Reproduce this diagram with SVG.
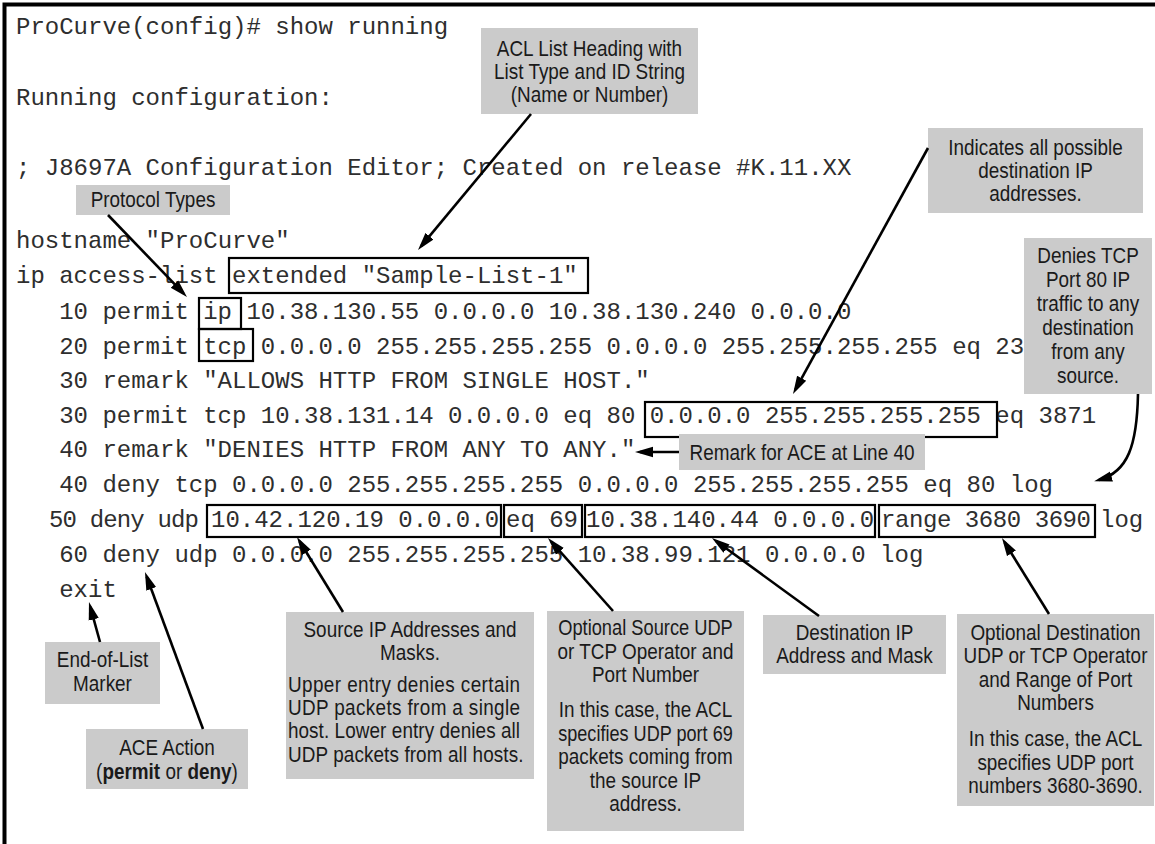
<svg xmlns="http://www.w3.org/2000/svg" width="1155" height="844" viewBox="0 0 1155 844">
  <style>
    .mono { font-family: "Liberation Mono", "Courier New", monospace; font-size: 24px; fill: #2e2e2e; }
    .note { font-family: "Liberation Sans", Arial, sans-serif; font-size: 22px; fill: #1a1a1a; text-anchor: middle; }
    .left { text-anchor: start; }
    .callout { fill: #cbcbcb; }
    .hl { fill: none; stroke: #000; stroke-width: 2.2; }
    .wire { fill: none; stroke: #000; stroke-width: 2.6; marker-end: url(#ah); }
    .frame { fill: none; stroke: #000; stroke-width: 4; }
  </style>
  <defs>
    <marker id="ah" markerUnits="userSpaceOnUse" markerWidth="18" markerHeight="12" viewBox="0 0 18 12" refX="13" refY="6" orient="auto">
      <path d="M0 0.8 L18 6 L0 11.2 Z" fill="#000"/>
    </marker>
  </defs>

  <rect width="1155" height="844" fill="#fff"/>
  <path class="frame" d="M4.5 844 V4.5 H1155"/>

  <!-- configuration listing -->
  <g id="listing">
    <text class="mono" x="16" y="34">ProCurve(config)# show running</text>
    <text class="mono" x="16" y="105">Running configuration:</text>
    <text class="mono" x="16" y="175">; J8697A Configuration Editor; Created on release #K.11.XX</text>
    <text class="mono" x="16" y="248">hostname "ProCurve"</text>
    <text class="mono" x="16" y="283">ip access-list extended "Sample-List-1"</text>
    <text class="mono" x="59.2" y="319">10 permit ip 10.38.130.55 0.0.0.0 10.38.130.240 0.0.0.0</text>
    <text class="mono" x="59.2" y="354">20 permit tcp 0.0.0.0 255.255.255.255 0.0.0.0 255.255.255.255 eq 23</text>
    <text class="mono" x="59.2" y="388">30 remark "ALLOWS HTTP FROM SINGLE HOST."</text>
    <text class="mono" x="59.2" y="423">30 permit tcp 10.38.131.14 0.0.0.0 eq 80 0.0.0.0 255.255.255.255 eq 3871</text>
    <text class="mono" x="59.2" y="457">40 remark "DENIES HTTP FROM ANY TO ANY."</text>
    <text class="mono" x="59.2" y="492">40 deny tcp 0.0.0.0 255.255.255.255 0.0.0.0 255.255.255.255 eq 80 log</text>
    <text class="mono" y="527"><tspan x="49" textLength="150" lengthAdjust="spacing">50 deny udp</tspan><tspan x="211">10.42.120.19 0.0.0.0</tspan><tspan x="506">eq 69</tspan><tspan x="586">10.38.140.44 0.0.0.0</tspan><tspan x="881" textLength="210" lengthAdjust="spacing">range 3680 3690</tspan><tspan x="1100">log</tspan></text>
    <text class="mono" x="59.2" y="562">60 deny udp 0.0.0.0 255.255.255.255 10.38.99.121 0.0.0.0 log</text>
    <text class="mono" x="59.2" y="597">exit</text>
  </g>

  <!-- outlined fields -->
  <g id="fields">
    <rect class="hl" x="229" y="258" width="359" height="35"/>
    <rect class="hl" x="199" y="298" width="42" height="31"/>
    <rect class="hl" x="199" y="329" width="54" height="32"/>
    <rect class="hl" x="645" y="402" width="352" height="35"/>
    <rect class="hl" x="207" y="505" width="294" height="32"/>
    <rect class="hl" x="504" y="505" width="78" height="32"/>
    <rect class="hl" x="585" y="505" width="290" height="32"/>
    <rect class="hl" x="879" y="505" width="216" height="32"/>
  </g>

  <!-- callouts -->
  <g id="protocol-types">
    <rect class="callout" x="76" y="185" width="154" height="30"/>
    <g transform="translate(153 0) scale(0.86 1)">
      <text class="note" x="0" y="207">Protocol Types</text>
    </g>
  </g>

  <g id="list-heading">
    <rect class="callout" x="481" y="28" width="217" height="86"/>
    <g transform="translate(589.5 0) scale(0.86 1)">
      <text class="note" x="0" y="56">ACL List Heading with</text>
      <text class="note" x="0" y="79">List Type and ID String</text>
      <text class="note" x="0" y="102">(Name or Number)</text>
    </g>
  </g>

  <g id="any-destination">
    <rect class="callout" x="928" y="128" width="215" height="85"/>
    <g transform="translate(1035.5 0) scale(0.86 1)">
      <text class="note" x="0" y="155">Indicates all possible</text>
      <text class="note" x="0" y="178">destination IP</text>
      <text class="note" x="0" y="201">addresses.</text>
    </g>
  </g>

  <g id="deny-port-80">
    <rect class="callout" x="1024" y="238" width="128" height="156"/>
    <g transform="translate(1088 0) scale(0.86 1)">
      <text class="note" x="0" y="263">Denies TCP</text>
      <text class="note" x="0" y="287">Port 80 IP</text>
      <text class="note" x="0" y="311">traffic to any</text>
      <text class="note" x="0" y="335">destination</text>
      <text class="note" x="0" y="359">from any</text>
      <text class="note" x="0" y="383">source.</text>
    </g>
  </g>

  <g id="remark-40">
    <rect class="callout" x="679" y="434" width="246" height="36"/>
    <g transform="translate(802 0) scale(0.86 1)">
      <text class="note" x="0" y="460">Remark for ACE at Line 40</text>
    </g>
  </g>

  <g id="end-of-list">
    <rect class="callout" x="45" y="642" width="115" height="62"/>
    <g transform="translate(102.5 0) scale(0.86 1)">
      <text class="note" x="0" y="667">End-of-List</text>
      <text class="note" x="0" y="691">Marker</text>
    </g>
  </g>

  <g id="ace-action">
    <rect class="callout" x="86" y="729" width="162" height="60"/>
    <g transform="translate(167 0) scale(0.86 1)">
      <text class="note" x="0" y="755">ACE Action</text>
      <text class="note" x="0" y="779">(<tspan font-weight="bold">permit</tspan> or <tspan font-weight="bold">deny</tspan>)</text>
    </g>
  </g>

  <g id="source-address">
    <rect class="callout" x="286" y="612" width="248" height="167"/>
    <g transform="translate(410 0) scale(0.86 1)">
      <text class="note" x="0" y="637">Source IP Addresses and</text>
      <text class="note" x="0" y="660">Masks.</text>
      <text class="note left" x="-142" y="692" textLength="270" lengthAdjust="spacing">Upper entry denies certain</text>
      <text class="note left" x="-142" y="715" textLength="270" lengthAdjust="spacing">UDP packets from a single</text>
      <text class="note left" x="-142" y="738" textLength="270" lengthAdjust="spacing">host. Lower entry denies all</text>
      <text class="note left" x="-142" y="762" textLength="274" lengthAdjust="spacing">UDP packets from all hosts.</text>
    </g>
  </g>

  <g id="source-port">
    <rect class="callout" x="547" y="611" width="197" height="220"/>
    <g transform="translate(645.5 0) scale(0.86 1)">
      <text class="note" x="0" y="635" textLength="203" lengthAdjust="spacingAndGlyphs">Optional Source UDP</text>
      <text class="note" x="0" y="659">or TCP Operator and</text>
      <text class="note" x="0" y="682">Port Number</text>
      <text class="note" x="0" y="717">In this case, the ACL</text>
      <text class="note" x="0" y="741" textLength="203" lengthAdjust="spacingAndGlyphs">specifies UDP port 69</text>
      <text class="note" x="0" y="764">packets coming from</text>
      <text class="note" x="0" y="788">the source IP</text>
      <text class="note" x="0" y="811">address.</text>
    </g>
  </g>

  <g id="destination-address">
    <rect class="callout" x="763" y="615" width="183" height="59"/>
    <g transform="translate(854.5 0) scale(0.86 1)">
      <text class="note" x="0" y="640">Destination IP</text>
      <text class="note" x="0" y="663">Address and Mask</text>
    </g>
  </g>

  <g id="destination-range">
    <rect class="callout" x="957" y="614" width="197" height="192"/>
    <g transform="translate(1055.5 0) scale(0.86 1)">
      <text class="note" x="0" y="640">Optional Destination</text>
      <text class="note" x="0" y="663">UDP or TCP Operator</text>
      <text class="note" x="0" y="687">and Range of Port</text>
      <text class="note" x="0" y="710">Numbers</text>
      <text class="note" x="0" y="746">In this case, the ACL</text>
      <text class="note" x="0" y="770">specifies UDP port</text>
      <text class="note" x="0" y="793">numbers 3680-3690.</text>
    </g>
  </g>

  <!-- leader arrows -->
  <g id="connectors">
    <path class="wire" d="M108 215 L183.5 293.4"/>
    <path class="wire" d="M531 114 L421.2 246.2"/>
    <path class="wire" d="M928 148 L795.4 389.6"/>
    <path class="wire" d="M679 452 L640 452"/>
    <path class="wire" d="M1138 394 C1137 445 1128 472 1099 480"/>
    <path class="wire" d="M203 729 L146.7 576.7"/>
    <path class="wire" d="M100 642 L90.3 606.8"/>
    <path class="wire" d="M343 612 L299.6 541.3"/>
    <path class="wire" d="M613 611 L551.3 541.7"/>
    <path class="wire" d="M819 616 L716 541"/>
    <path class="wire" d="M1049 614 L1004.6 542.3"/>
  </g>
</svg>
